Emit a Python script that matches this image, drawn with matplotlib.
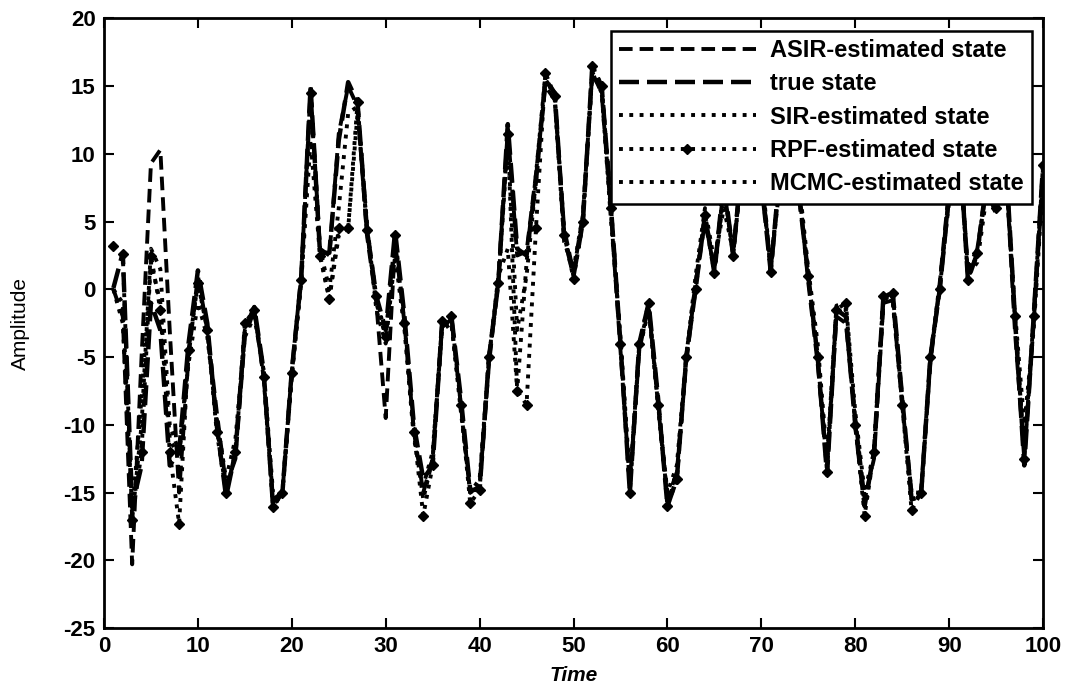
# plot.py
# state estimation comparison: true state vs ASIR / SIR / RPF / MCMC particle filters
import numpy as np
import matplotlib.pyplot as plt

# data, time steps 1..100
time = np.arange(1, 101)

true_state = [0.1, 2.7, -16.0, -13.0, -1.0, -3.0, -13.0, -12.0, -4.0, 1.4,
              -2.5, -10.0, -15.3, -12.0, -3.0, -1.3, -6.0, -16.0, -15.0, -6.0,
              0.8, 15.0, 2.7, 2.7, 11.0, 15.3, 13.8, 4.4, -0.5, -3.0,
              4.3, -2.0, -10.0, -14.0, -13.0, -2.5, -2.0, -8.0, -14.8, -14.8,
              -5.0, 0.5, 12.2, 3.0, 2.5, 8.0, 15.5, 14.5, 4.0, 1.0,
              5.0, 16.5, 15.0, 6.0, -4.0, -15.0, -4.0, -1.0, -8.0, -16.0,
              -14.0, -5.0, 0.0, 5.5, 1.2, 8.0, 2.5, 10.0, 12.0, 8.0,
              1.3, 9.0, 13.0, 7.0, 1.0, -5.0, -13.7, -1.5, -2.0, -10.0,
              -16.0, -12.0, -0.5, -0.3, -8.0, -15.5, -15.3, -5.0, 0.0, 7.0,
              12.0, 0.7, 2.7, 8.0, 6.0, 10.0, -2.0, -13.0, -2.0, 9.2]

asir_est = [0.0, -2.0, -20.3, -5.0, 9.3, 10.3, -3.0, -15.0, -5.0, 1.0,
            -3.0, -9.0, -14.5, -12.5, -3.5, -1.5, -6.5, -15.5, -15.0, -6.0,
            1.0, 14.8, 3.0, 2.5, 11.5, 15.0, 13.5, 4.0, -1.0, -9.5,
            3.5, -2.5, -10.5, -15.0, -12.5, -2.8, -2.2, -8.5, -15.0, -14.5,
            -5.5, 0.8, 11.8, 2.5, 2.8, 8.5, 15.0, 14.0, 4.5, 1.2,
            5.5, 16.0, 14.5, 5.5, -4.5, -14.5, -4.5, -1.2, -8.5, -15.5,
            -13.5, -5.5, 0.5, 5.0, 1.5, 7.5, 2.8, 9.5, 11.5, 8.5,
            1.5, 8.5, 12.5, 7.5, 0.5, -5.5, -13.0, -2.0, -2.5, -9.5,
            -15.5, -12.5, -1.0, -0.8, -8.5, -15.0, -15.0, -5.5, 0.5, 7.5,
            11.5, 1.5, 3.0, 7.5, 5.5, 9.5, -3.0, -12.5, -2.5, 8.5]

sir_est = [0.0, -1.0, -17.0, -10.0, 3.0, 1.5, -10.0, -12.0, -5.5, -1.0,
           -3.5, -9.5, -14.0, -11.0, -3.5, -2.0, -6.0, -15.0, -15.0, -6.5,
           0.5, 11.0, 2.5, -0.7, 4.0, 4.5, 13.0, 5.0, -1.5, -4.0,
           2.5, -3.0, -11.0, -14.5, -12.0, -3.0, -2.5, -9.0, -15.0, -14.0,
           -5.0, 1.0, 3.0, -7.5, 2.0, 8.5, 15.8, 14.0, 3.5, 1.5,
           5.5, 16.0, 14.5, 5.0, -3.5, -14.0, -4.5, -1.5, -8.5, -15.0,
           -13.0, -5.0, 1.0, 6.0, 2.0, 6.0, 2.8, 9.0, 11.0, 9.0,
           1.5, 8.0, 12.0, 8.0, 1.5, -4.0, -12.5, -1.2, -1.0, -9.0,
           -15.0, -12.0, -0.5, -1.0, -8.5, -15.0, -15.5, -5.0, 0.5, 6.5,
           11.0, 1.0, 2.0, 7.0, 6.5, 9.0, -1.5, -10.0, -3.0, 8.0]

rpf_est = [3.2, 2.6, -17.0, -12.0, 2.5, -1.5, -12.0, -17.3, -4.5, 0.5,
           -3.0, -10.5, -15.0, -12.0, -2.5, -1.5, -6.5, -16.1, -15.0, -6.2,
           0.7, 14.5, 2.5, -0.7, 4.5, 4.5, 13.8, 4.4, -0.5, -3.5,
           4.0, -2.5, -10.5, -16.7, -13.0, -2.3, -2.0, -8.5, -15.8, -14.8,
           -5.0, 0.5, 11.5, -7.5, -8.5, 4.5, 16.0, 14.3, 4.0, 0.8,
           5.0, 16.5, 15.0, 6.0, -4.0, -15.0, -4.0, -1.0, -8.5, -16.0,
           -14.0, -5.0, 0.0, 5.5, 1.2, 7.0, 2.5, 9.5, 12.0, 8.5,
           1.3, 9.0, 12.5, 7.5, 1.0, -5.0, -13.5, -1.5, -1.0, -10.0,
           -16.7, -12.0, -0.5, -0.3, -8.5, -16.3, -15.0, -5.0, 0.0, 7.0,
           12.0, 0.7, 2.7, 8.0, 6.0, 9.5, -2.0, -12.5, -2.0, 9.2]

mcmc_est = [0.0, -2.5, -16.5, -8.0, 2.0, -1.0, -11.0, -12.5, -4.5, 0.5,
            -3.0, -10.0, -15.0, -12.0, -3.0, -1.5, -6.0, -16.0, -15.0, -6.0,
            0.8, 14.5, 3.0, 0.0, 6.0, 13.0, 13.5, 4.5, -1.0, -3.5,
            3.5, -2.5, -10.5, -15.5, -12.5, -2.5, -2.5, -8.5, -15.0, -14.5,
            -5.0, 0.5, 11.0, -3.0, 1.0, 8.0, 15.5, 14.5, 4.0, 1.0,
            5.0, 16.0, 15.0, 6.0, -4.0, -14.5, -4.0, -1.5, -8.0, -15.5,
            -14.0, -5.0, 0.5, 5.5, 1.5, 7.5, 2.5, 10.0, 11.5, 8.0,
            1.5, 9.0, 13.0, 7.0, 1.0, -5.0, -13.0, -1.5, -1.5, -10.0,
            -16.0, -12.0, -1.0, -0.5, -8.0, -15.5, -15.3, -5.0, 0.0, 7.0,
            12.0, 1.0, 2.5, 8.0, 6.0, 9.5, -2.0, -12.0, -2.0, 9.0]

labels = ['ASIR-estimated state', 'true state', 'SIR-estimated state',
          'RPF-estimated state', 'MCMC-estimated state']

plt.rcParams['font.family'] = ['Liberation Sans', 'DejaVu Sans']
plt.rcParams['axes.unicode_minus'] = False

fig = plt.figure(figsize=(10.71, 6.92), dpi=100)
ax = fig.add_axes([0.0971, 0.0925, 0.8768, 0.8808])

ax.plot(time, asir_est, '--', color='k', lw=2.8, dashes=(3.5, 1.8), label=labels[0])
ax.plot(time, true_state, '--', color='k', lw=3.2, dashes=(4.5, 1.8), label=labels[1])
ax.plot(time, sir_est, ':', color='k', lw=2.8, label=labels[2])
ax.plot(time, rpf_est, ':', color='k', lw=2.8, marker='D', ms=5, label=labels[3])
ax.plot(time, mcmc_est, ':', color='k', lw=2.8, label=labels[4])

ax.set_xlim(0, 100)
ax.set_ylim(-25, 20)
ax.set_xticks(np.arange(0, 101, 10))
ax.set_yticks(np.arange(-25, 21, 5))
ax.tick_params(direction='in', length=7, width=1.5, top=True, right=True,
               labelsize=16, pad=6)
for lab in ax.get_xticklabels() + ax.get_yticklabels():
    lab.set_fontweight('bold')
for sp in ax.spines.values():
    sp.set_linewidth(2)

ax.set_xlabel('Time', fontsize=15, fontweight='bold', fontstyle='italic', labelpad=6)
ax.set_ylabel('Amplitude', fontsize=15, labelpad=24)

leg = ax.legend(loc='upper right', bbox_to_anchor=(0.988, 0.98), borderaxespad=0,
                fancybox=False, framealpha=1, edgecolor='k',
                handlelength=5.8, handletextpad=0.6, labelspacing=0.44, borderpad=0.35,
                prop={'weight': 'bold', 'size': 17})
leg.get_frame().set_linewidth(1.8)

plt.savefig('out.png', dpi=100)
